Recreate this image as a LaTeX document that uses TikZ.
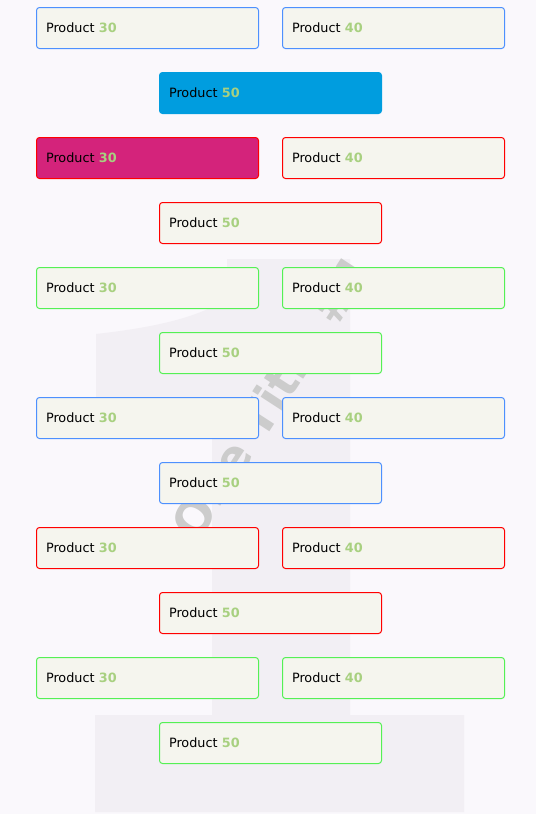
\documentclass[tikz,border=0pt]{standalone}
\usepackage{fontspec}
\setmainfont{DejaVu Sans}
\definecolor{bgcol}{HTML}{FAF8FC}
\definecolor{shapecol}{HTML}{F2EFF4}
\definecolor{boxfill}{HTML}{F5F5EE}
\definecolor{bblue}{HTML}{4D90FE}
\definecolor{bred}{HTML}{FF0000}
\definecolor{bgreen}{HTML}{55F055}
\definecolor{fblue}{HTML}{009DDF}
\definecolor{fmag}{HTML}{D4237B}
\definecolor{numgreen}{HTML}{A8D080}
\definecolor{titlegray}{HTML}{CCCCCC}
\begin{document}
\begin{tikzpicture}[x=1pt,y=-1pt,
  prodbox/.style={draw=#1, line width=1pt, rounded corners=3pt, fill=boxfill,
    anchor=north west, minimum height=41pt, text width=203pt, inner xsep=9.5pt,
    inner ysep=0pt, align=left, font=\fontsize{12.8}{14}\selectfont},
  pr/.style={prodbox=#1}]
\newcommand{\prodtxt}[1]{\raisebox{-1pt}{Product {\bfseries\color{numgreen}#1}}}
\useasboundingbox (0,0) rectangle (536,814);
\fill[bgcol] (0,0) rectangle (536,814);
% big digit one
\fill[shapecol] (227,259) -- (350,259) -- (350,715) -- (464,715) -- (464,812)
  -- (95,812) -- (95,715) -- (212,715) -- (212,418) -- (96,418) -- (96,334)
  .. controls (150,328) and (200,318) .. (227,298) -- cycle;
% rotated title
\node[rotate=57, text=titlegray, font=\bfseries\fontsize{47}{50}\selectfont] (title) at (272,396) {One Title \#1};
% boxes
\node[pr=bblue] (l1) at (36,7) {\prodtxt{30}};
\node[pr=bblue] (r1) at (282,7) {\prodtxt{40}};
\node[pr=fblue, fill=fblue] (c1) at (159,72) {\prodtxt{50}};
\node[pr=bred, fill=fmag] (l2) at (36,137) {\prodtxt{30}};
\node[pr=bred] (r2) at (282,137) {\prodtxt{40}};
\node[pr=bred] (c2) at (159,202) {\prodtxt{50}};
\node[pr=bgreen] (l3) at (36,267) {\prodtxt{30}};
\node[pr=bgreen] (r3) at (282,267) {\prodtxt{40}};
\node[pr=bgreen] (c3) at (159,332) {\prodtxt{50}};
\node[pr=bblue] (l4) at (36,397) {\prodtxt{30}};
\node[pr=bblue] (r4) at (282,397) {\prodtxt{40}};
\node[pr=bblue] (c4) at (159,462) {\prodtxt{50}};
\node[pr=bred] (l5) at (36,527) {\prodtxt{30}};
\node[pr=bred] (r5) at (282,527) {\prodtxt{40}};
\node[pr=bred] (c5) at (159,592) {\prodtxt{50}};
\node[pr=bgreen] (l6) at (36,657) {\prodtxt{30}};
\node[pr=bgreen] (r6) at (282,657) {\prodtxt{40}};
\node[pr=bgreen] (c6) at (159,722) {\prodtxt{50}};
\end{tikzpicture}
\end{document}
